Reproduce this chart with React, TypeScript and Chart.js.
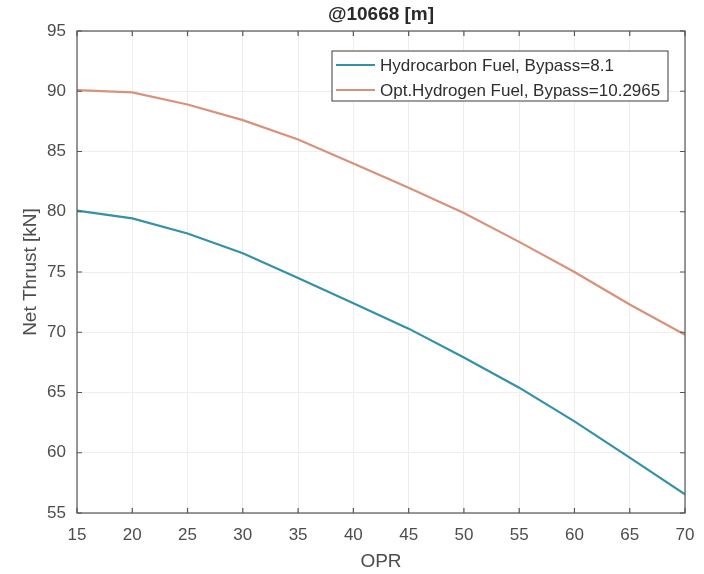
import React, { useEffect, useRef } from "react";
import { Chart, registerables } from "chart.js";

Chart.register(...registerables);

const OPR = [15, 20, 25, 30, 35, 40, 45, 50, 55, 60, 65, 70];
const hydrocarbon = [80.1, 79.45, 78.2, 76.55, 74.5, 72.4, 70.3, 67.9, 65.4, 62.6, 59.6, 56.55];
const hydrogen = [90.1, 89.9, 88.9, 87.6, 86.0, 84.0, 82.0, 79.9, 77.5, 75.0, 72.3, 69.8];
const seriesLabels = ["Hydrocarbon Fuel, Bypass=8.1", "Opt.Hydrogen Fuel, Bypass=10.2965"];
const chartTitle = "@10668 [m]";
const xTitle = "OPR";
const yTitle = "Net Thrust [kN]";

const FONT = "'Liberation Sans', Arial, Helvetica, sans-serif";
const AXIS = "#555555";
const TEXT = "#4d4d4d";

const decorPlugin = {
  id: "matlabDecor",
  afterDatasetsDraw(chart: any) {
    const { ctx, chartArea } = chart;
    const { left, right, top, bottom } = chartArea;
    const xs = chart.scales.x;
    const ys = chart.scales.y;
    ctx.save();
    // box
    ctx.strokeStyle = AXIS;
    ctx.lineWidth = 1.2;
    ctx.strokeRect(left, top, right - left, bottom - top);
    // inward ticks
    const tl = 5;
    ctx.beginPath();
    xs.ticks.forEach((t: any) => {
      const px = xs.getPixelForValue(t.value);
      ctx.moveTo(px, bottom);
      ctx.lineTo(px, bottom - tl);
      ctx.moveTo(px, top);
      ctx.lineTo(px, top + tl);
    });
    ys.ticks.forEach((t: any) => {
      const py = ys.getPixelForValue(t.value);
      ctx.moveTo(left, py);
      ctx.lineTo(left + tl, py);
      ctx.moveTo(right, py);
      ctx.lineTo(right - tl, py);
    });
    ctx.stroke();

    // legend
    const lx = 332, ly = 51, lw = 336, lh = 50;
    ctx.fillStyle = "#ffffff";
    ctx.fillRect(lx, ly, lw, lh);
    ctx.strokeStyle = "#3c3c3c";
    ctx.lineWidth = 1;
    ctx.strokeRect(lx, ly, lw, lh);
    ctx.font = `17px ${FONT}`;
    ctx.textBaseline = "middle";
    ctx.textAlign = "left";
    chart.data.datasets.forEach((ds: any, i: number) => {
      const yy = ly + 14 + i * 25;
      ctx.strokeStyle = ds.borderColor;
      ctx.lineWidth = 2;
      ctx.beginPath();
      ctx.moveTo(lx + 4, yy);
      ctx.lineTo(lx + 43, yy);
      ctx.stroke();
      ctx.fillStyle = "#2e2e2e";
      ctx.fillText(ds.label, lx + 48, yy + 1);
    });

    // title
    ctx.fillStyle = "#2a2a2a";
    ctx.font = `bold 19px ${FONT}`;
    ctx.textAlign = "center";
    ctx.textBaseline = "middle";
    ctx.fillText(chartTitle, (left + right) / 2, 15);

    // axis titles
    ctx.fillStyle = TEXT;
    ctx.font = `19px ${FONT}`;
    ctx.fillText(xTitle, (left + right) / 2, 562);
    ctx.save();
    ctx.translate(31, (top + bottom) / 2);
    ctx.rotate(-Math.PI / 2);
    ctx.fillText(yTitle, 0, 0);
    ctx.restore();
    ctx.restore();
  },
};

export default function App() {
  const ref = useRef<HTMLCanvasElement | null>(null);
  useEffect(() => {
    if (!ref.current) return;
    const chart = new Chart(ref.current, {
      type: "line",
      data: {
        datasets: [
          {
            label: seriesLabels[0],
            data: OPR.map((x, i) => ({ x, y: hydrocarbon[i] })),
            borderColor: "#3391a8",
            borderWidth: 2.2,
            pointRadius: 0,
            tension: 0,
          },
          {
            label: seriesLabels[1],
            data: OPR.map((x, i) => ({ x, y: hydrogen[i] })),
            borderColor: "#d8927c",
            borderWidth: 2.2,
            pointRadius: 0,
            tension: 0,
          },
        ],
      },
      options: {
        responsive: false,
        animation: false,
        devicePixelRatio: 1,
        layout: { padding: { left: 0, top: 31, right: 19, bottom: 0 } },
        plugins: { legend: { display: false }, title: { display: false }, tooltip: { enabled: false } },
        scales: {
          x: {
            type: "linear",
            min: 15,
            max: 70,
            afterFit: (s: any) => { s.height = 61; s.paddingLeft = 0; s.paddingRight = 0; },
            ticks: { stepSize: 5, color: TEXT, font: { size: 17, family: FONT }, padding: 12, maxRotation: 0 },
            grid: { color: "#eeeeee", drawTicks: false },
            border: { display: false },
          },
          y: {
            min: 55,
            max: 95,
            afterFit: (s: any) => { s.width = 77; s.paddingTop = 0; s.paddingBottom = 0; },
            ticks: { stepSize: 5, color: TEXT, font: { size: 17, family: FONT }, padding: 11 },
            grid: { color: "#eeeeee", drawTicks: false },
            border: { display: false },
          },
        },
      },
      plugins: [decorPlugin],
    } as any);
    return () => chart.destroy();
  }, []);
  return (
    <div style={{ position: "absolute", left: 0, top: 0, width: 704, height: 574, background: "#fff" }}>
      <canvas ref={ref} width={704} height={574} />
    </div>
  );
}
